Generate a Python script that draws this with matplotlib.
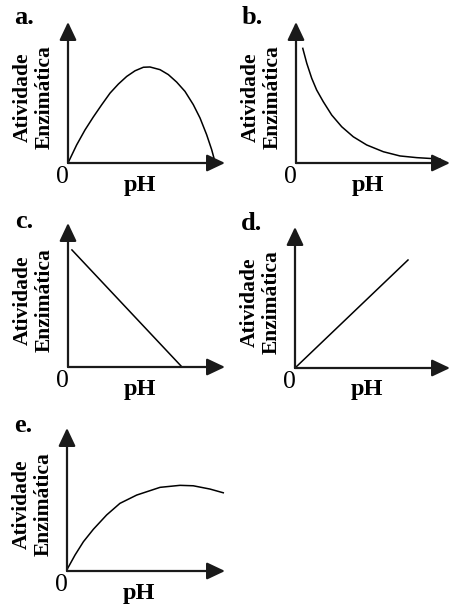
import matplotlib
matplotlib.use("Agg")
import matplotlib.pyplot as plt

# ---- data (normalized 0..10 units per panel: x = pH, y = atividade) ----
a_x = [0, 0.55, 1.08, 1.61, 2.14, 2.68, 3.21, 3.74, 4.27, 4.80, 5.22, 5.86,
       6.39, 6.92, 7.45, 7.98, 8.41, 8.83, 9.15, 9.36]
a_y = [0, 1.28, 2.34, 3.26, 4.12, 4.96, 5.60, 6.14, 6.54, 6.79, 6.81, 6.62,
       6.27, 5.74, 5.08, 4.14, 3.19, 2.01, 0.95, 0.09]

b_x = [0.44, 0.70, 1.02, 1.34, 1.77, 2.32, 2.97, 3.72, 4.59, 5.67, 6.75, 7.84, 9.35]
b_y = [8.13, 7.07, 6.01, 5.18, 4.35, 3.40, 2.57, 1.86, 1.28, 0.80, 0.50, 0.38, 0.28]

c_x = [0.25, 7.26]
c_y = [8.13, 0]

d_x = [0, 7.29]
d_y = [0, 7.66]

e_x = [0, 0.51, 1.04, 1.67, 2.51, 3.35, 4.41, 5.89, 7.15, 7.99, 9.05, 9.89]
e_y = [0.1, 1.12, 2.05, 2.92, 3.92, 4.73, 5.31, 5.85, 5.99, 5.96, 5.73, 5.47]

letters = ["a.", "b.", "c.", "d.", "e."]
ylabel = "Atividade\nEnzimática"
xlabel = "pH"
origin_label = "0"

series = [(a_x, a_y), (b_x, b_y), (c_x, c_y), (d_x, d_y), (e_x, e_y)]

# ---- layout (pixels: origin x, origin y, x-arrow tip, y-arrow tip) ----
W, H = 450, 608
boxes = [
    (68, 163, 225, 22),
    (296, 163, 450, 22),
    (68, 367, 225, 223),
    (295, 368, 450, 227),
    (67, 571, 225, 428),
]

fig = plt.figure(figsize=(W / 100, H / 100), dpi=100)
serif = "Liberation Serif"

def fx(x):
    return x / W

def fy(y):
    return 1 - y / H

for (sx, sy), (ox, oy, tx, ty), let in zip(series, boxes, letters):
    ax = fig.add_axes([fx(ox), fy(oy), (tx - ox) / W, (oy - ty) / H])
    ax.set_xlim(0, 10)
    ax.set_ylim(0, 10)
    ax.axis("off")
    ax.plot(sx, sy, color="black", lw=1.1, clip_on=False,
            solid_joinstyle="round")
    arrow = dict(arrowstyle="-|>,head_length=0.55,head_width=0.26",
                 mutation_scale=20, lw=1.6, color="#1a1a1a",
                 shrinkA=0, shrinkB=0)
    ax.annotate("", xy=(1, 0), xytext=(0, 0), xycoords="axes fraction",
                arrowprops=arrow, annotation_clip=False)
    ax.annotate("", xy=(0, 1), xytext=(0, 0), xycoords="axes fraction",
                arrowprops=arrow, annotation_clip=False)

    # texts
    fig.text(fx(ox - 44), fy(oy - 145), let, fontfamily=serif,
             fontweight="bold", fontsize=19, ha="center", va="center")
    cy = (oy + ty) / 2 + 5
    fig.text(fx(ox - 34), fy(cy), ylabel, fontfamily=serif,
             fontweight="bold", fontsize=15.5, rotation=90,
             ha="center", va="center", multialignment="center",
             linespacing=1.15)
    fig.text(fx(ox - 6), fy(oy + 14), origin_label, fontfamily=serif,
             fontsize=18.5, ha="center", va="center")
    fig.text(fx(ox + 72), fy(oy + 22), xlabel, fontfamily=serif,
             fontweight="bold", fontsize=17.5, ha="center", va="center")

fig.savefig("out.png", dpi=100)
